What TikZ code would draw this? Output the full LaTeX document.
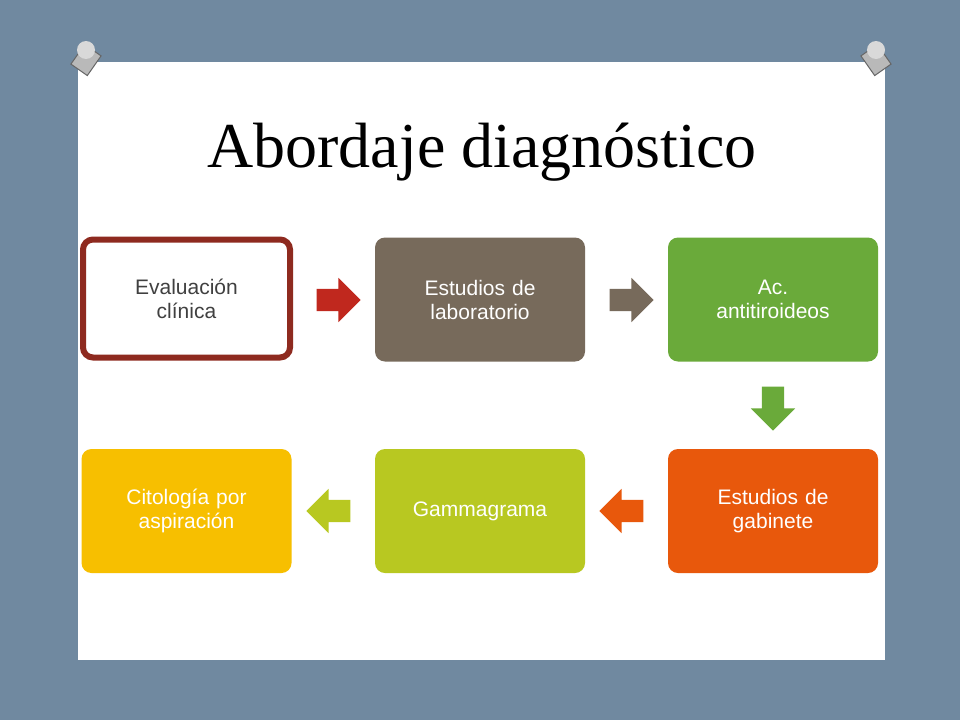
\documentclass[tikz,border=0pt]{standalone}
\usepackage{fontspec}
\setmainfont{Liberation Serif}
\setsansfont{Liberation Sans}
\usepackage{tikz}
\usetikzlibrary{shapes.arrows}
\definecolor{slate}{HTML}{7089A0}
\definecolor{boxred}{HTML}{8E2A1F}
\definecolor{boxbrown}{HTML}{776A5B}
\definecolor{boxgreen}{HTML}{6AAA3A}
\definecolor{boxorange}{HTML}{E8580C}
\definecolor{boxlime}{HTML}{B8C821}
\definecolor{boxgold}{HTML}{F7BF00}
\definecolor{arrred}{HTML}{C0281E}
\tikzset{
  stepbox/.style={rounded corners=10pt, minimum width=210pt, minimum height=124pt,
    align=center, text width=190pt, font=\sffamily\fontsize{21}{24}\selectfont, text=white},
  blockarrow/.style={single arrow, minimum height=44pt, inner xsep=0pt, inner ysep=11pt,
    single arrow head extend=11pt, single arrow tip angle=90, draw=none},
  pin/.style={fill=gray!55, draw=gray!80!black, line width=1pt}
}
\begin{document}
\begin{tikzpicture}[x=1pt,y=-1pt]
\useasboundingbox (0,0) rectangle (960,720);
\fill[slate] (0,0) rectangle (960,720);
\fill[white] (78,62) rectangle (885,660);
% pins
\draw[pin, rotate around={-35:(86,60)}] (76,48) rectangle (96,72);
\fill[gray!30] (86,50) circle (9);
\draw[pin, rotate around={35:(876,60)}] (866,48) rectangle (886,72);
\fill[gray!30] (876,50) circle (9);
\node[font=\fontsize{64}{70}\selectfont] (title) at (482,152) {Abordaje diagnóstico};
% boxes
\node[stepbox, fill=white, draw=boxred, line width=6pt, text=black!75,
  minimum width=207pt, minimum height=118pt] (eval) at (186.5,298.5) {Evaluación\\clínica};
\node[stepbox, fill=boxbrown] (lab) at (480,299.5) {Estudios de\\laboratorio};
\node[stepbox, fill=boxgreen] (ac) at (773,299.5) {Ac.\\antitiroideos};
\node[stepbox, fill=boxorange] (gab) at (773,511) {Estudios de\\gabinete};
\node[stepbox, fill=boxlime] (gam) at (480,511) {Gammagrama};
\node[stepbox, fill=boxgold] (cito) at (186.5,511) {Citología por\\aspiración};
% arrows
\node[blockarrow, fill=arrred] (a1) at (333,300) {};
\node[blockarrow, fill=boxbrown] (a2) at (626,300) {};
\node[blockarrow, fill=boxgreen, rotate=-90] (a3) at (773,403) {};
\node[blockarrow, fill=boxorange, rotate=180] (a4) at (627,511) {};
\node[blockarrow, fill=boxlime, rotate=180] (a5) at (334,511) {};
\end{tikzpicture}
\end{document}
